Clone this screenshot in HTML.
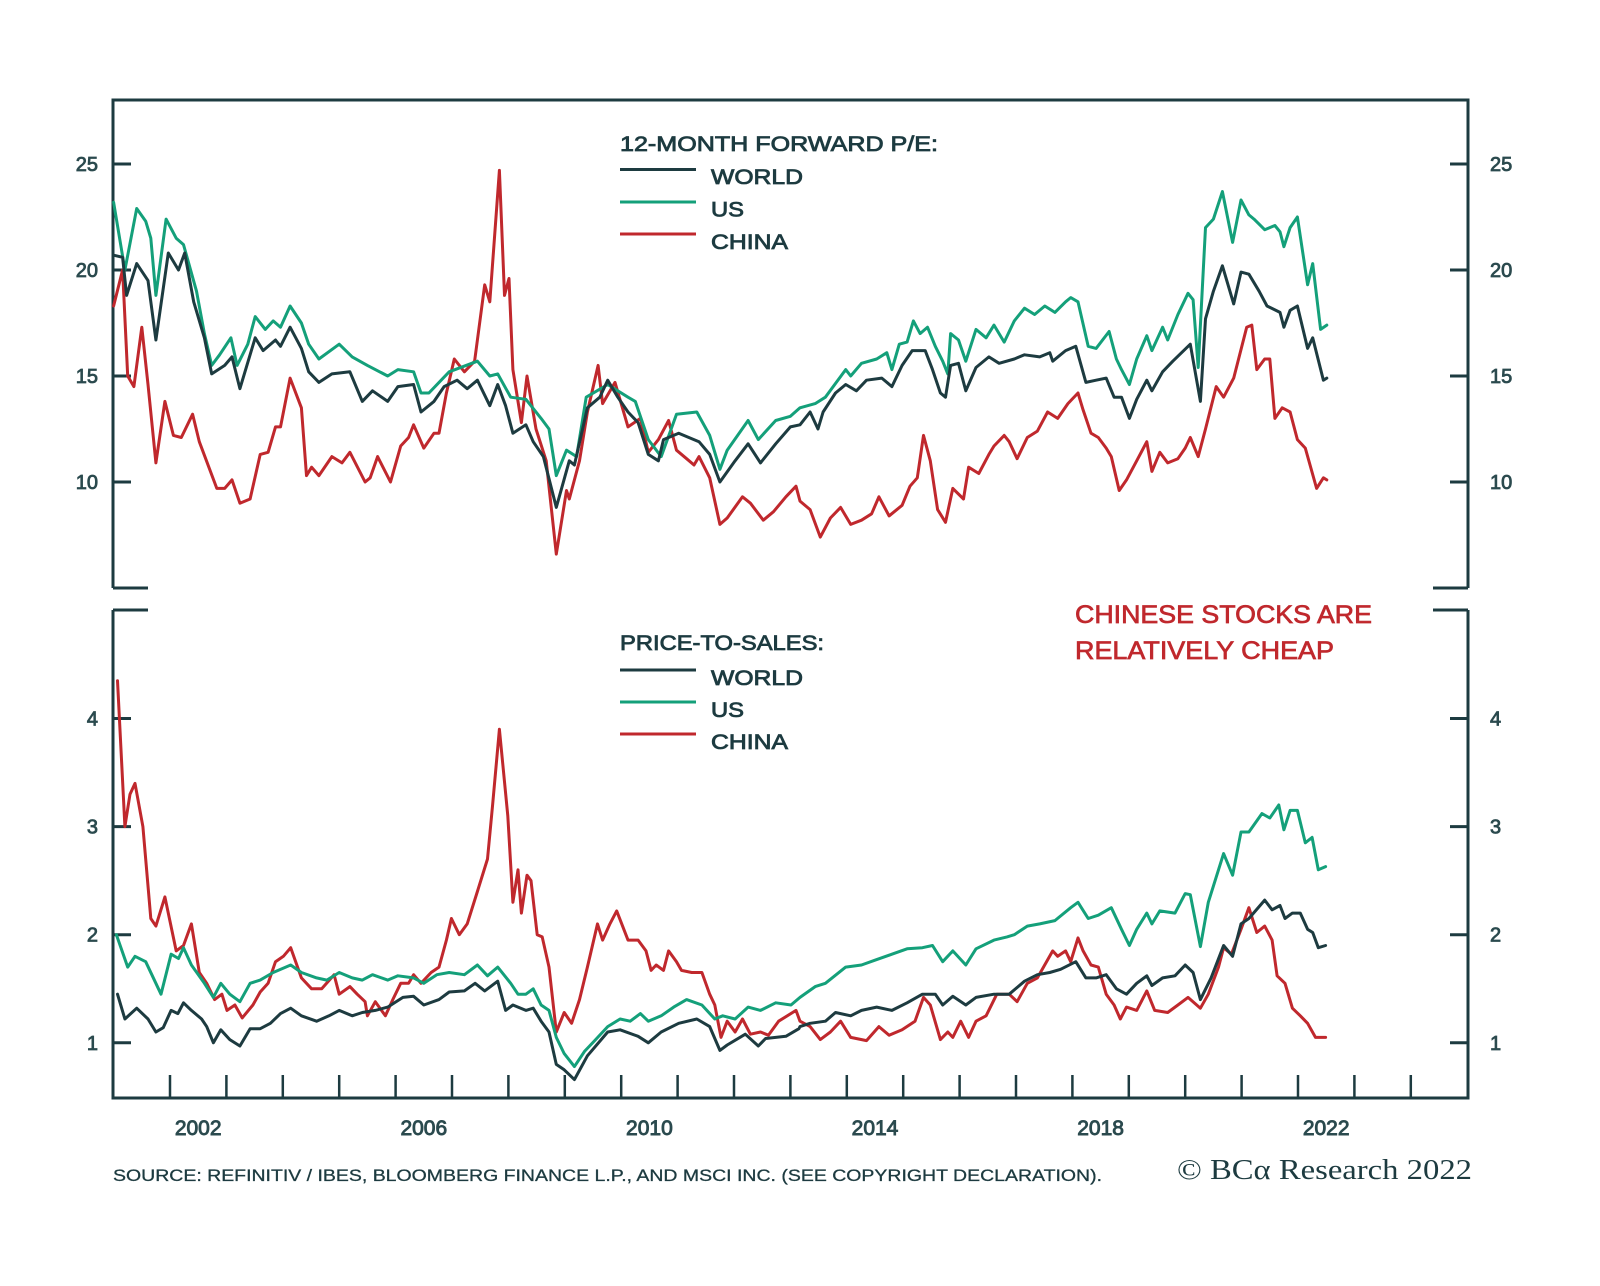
<!DOCTYPE html>
<html><head><meta charset="utf-8"><title>Forward P/E and Price-to-Sales</title>
<style>
html,body{margin:0;padding:0;background:#fff;}
svg{display:block;}
text{font-family:"Liberation Sans",sans-serif;}
</style></head>
<body>
<svg id="chart" width="1600" height="1286" viewBox="0 0 1600 1286" xmlns="http://www.w3.org/2000/svg">
<rect x="0" y="0" width="1600" height="1286" fill="#fff"/>
<g id="frame" stroke="#1d3b40" stroke-width="3" fill="none">
<path d="M113 588 L113 100 L1468 100 L1468 588"/>
<path d="M113 588 L148 588 M1433 588 L1468 588"/>
<path d="M113 610 L148 610 M1433 610 L1468 610"/>
<path d="M113 610 L113 1098 L1468 1098 L1468 610"/>
</g>
<g id="axes"></g>
<g id="series"></g>
<g fill="#1d3b40" font-size="21" stroke="#1d3b40" stroke-width="0.8" lengthAdjust="spacingAndGlyphs">
<text x="620" y="151" textLength="318" lengthAdjust="spacingAndGlyphs">12-MONTH FORWARD P/E:</text>
<line x1="620" y1="169.5" x2="696" y2="169.5" stroke="#1d3b40" stroke-width="3"/>
<text x="711" y="184" textLength="92" lengthAdjust="spacingAndGlyphs">WORLD</text>
<line x1="620" y1="202" x2="696" y2="202" stroke="#14a07a" stroke-width="3"/>
<text x="711" y="216.5" textLength="33" lengthAdjust="spacingAndGlyphs">US</text>
<line x1="620" y1="234" x2="696" y2="234" stroke="#c0282d" stroke-width="3"/>
<text x="711" y="249" textLength="77" lengthAdjust="spacingAndGlyphs">CHINA</text>
</g>
<g fill="#1d3b40" font-size="21" stroke="#1d3b40" stroke-width="0.8">
<text x="620" y="650" textLength="204" lengthAdjust="spacingAndGlyphs">PRICE-TO-SALES:</text>
<line x1="620" y1="670" x2="696" y2="670" stroke="#1d3b40" stroke-width="3"/>
<text x="711" y="685" textLength="92" lengthAdjust="spacingAndGlyphs">WORLD</text>
<line x1="620" y1="702" x2="696" y2="702" stroke="#14a07a" stroke-width="3"/>
<text x="711" y="717" textLength="33" lengthAdjust="spacingAndGlyphs">US</text>
<line x1="620" y1="734" x2="696" y2="734" stroke="#c0282d" stroke-width="3"/>
<text x="711" y="749" textLength="77" lengthAdjust="spacingAndGlyphs">CHINA</text>
</g>
<g fill="#c0282d" font-size="25" stroke="#c0282d" stroke-width="0.7">
<text x="1075" y="623" textLength="297" lengthAdjust="spacingAndGlyphs">CHINESE STOCKS ARE</text>
<text x="1075" y="659" textLength="259" lengthAdjust="spacingAndGlyphs">RELATIVELY CHEAP</text>
</g>
<text x="113" y="1181" font-size="17" fill="#1d3b40" stroke="#1d3b40" stroke-width="0.3" textLength="989" lengthAdjust="spacingAndGlyphs">SOURCE: REFINITIV / IBES, BLOOMBERG FINANCE L.P., AND MSCI INC. (SEE COPYRIGHT DECLARATION).</text>
<text x="1177" y="1179" font-size="28" fill="#1d3b40" style="font-family:'Liberation Serif',serif" textLength="295" lengthAdjust="spacingAndGlyphs">© BCα Research 2022</text>
</svg>
<script>
const peTicks = [10, 15, 20, 25];
const psTicks = [1, 2, 3, 4];
const yearLabels = [2002, 2006, 2010, 2014, 2018, 2022];

const peUsDates = [2001.00,2001.20,2001.41,2001.57,2001.66,2001.75,2001.93,2002.11,2002.24,2002.47,2002.61,2002.74,2002.88,2003.08,2003.19,2003.38,2003.51,2003.69,2003.83,2003.96,2004.13,2004.33,2004.46,2004.64,2005.00,2005.23,2005.50,2005.86,2006.04,2006.32,2006.45,2006.59,2006.95,2007.45,2007.67,2007.81,2008.04,2008.31,2008.58,2008.72,2008.85,2009.03,2009.21,2009.38,2009.76,2010.12,2010.25,2010.48,2010.71,2010.98,2011.34,2011.57,2011.75,2011.88,2012.25,2012.43,2012.74,2013.00,
2013.17,2013.44,2013.62,2013.98,2014.07,2014.26,2014.53,2014.71,2014.80,2014.93,2015.07,2015.18,2015.30,2015.43,2015.57,2015.70,2015.79,2015.84,2015.98,2016.11,2016.29,2016.47,2016.61,2016.79,2016.97,2017.15,2017.33,2017.51,2017.69,2017.88,2017.97,2018.10,2018.28,2018.42,2018.65,2018.78,2018.87,2019.01,2019.14,2019.32,2019.41,2019.60,2019.69,2019.87,2020.05,2020.14,2020.23,2020.36,2020.50,2020.66,2020.84,2020.99,2021.13,2021.22,2021.41,2021.59,2021.68,2021.75,2021.86,2021.99,2022.17,2022.26,2022.40,2022.51];
const peUsValues = [23.2,20.0,22.9,22.3,21.5,18.8,22.4,21.5,21.2,19.0,17.0,15.5,16.0,16.8,15.5,16.5,17.8,17.2,17.6,17.3,18.3,17.5,16.5,15.8,16.5,15.9,15.5,15.0,15.3,15.2,14.2,14.2,15.2,15.7,15.0,15.1,14.0,13.9,13.0,12.5,10.3,11.5,11.2,14.0,14.6,14.0,13.8,12.0,11.2,13.2,13.3,12.2,10.6,11.5,12.9,12.0,12.9,13.1,
13.5,13.7,14.0,15.3,15.0,15.6,15.8,16.1,15.3,16.5,16.6,17.6,17.0,17.3,16.4,15.7,15.1,17.0,16.7,15.7,17.2,16.8,17.4,16.6,17.6,18.2,17.9,18.3,18.0,18.5,18.7,18.5,16.4,16.3,17.1,15.8,15.3,14.6,15.8,16.9,16.2,17.3,16.7,17.9,18.9,18.6,15.4,22.0,22.4,23.7,21.3,23.3,22.6,22.4,21.9,22.1,21.8,21.1,22.0,22.5,19.3,20.3,17.2,17.4];

const peWorldDates = [2001.00,2001.16,2001.23,2001.41,2001.61,2001.75,2001.97,2002.15,2002.26,2002.42,2002.61,2002.74,2002.97,2003.10,2003.24,2003.51,2003.65,2003.87,2003.96,2004.13,2004.33,2004.46,2004.64,2004.87,2005.19,2005.41,2005.59,2005.86,2006.04,2006.32,2006.45,2006.68,2006.86,2007.09,2007.27,2007.45,2007.67,2007.81,2007.95,2008.08,2008.31,2008.44,2008.62,2008.85,2009.08,2009.17,2009.40,2009.62,2009.76,2009.94,2010.12,2010.30,2010.48,2010.66,2010.75,2011.02,2011.38,2011.57,2011.75,2012.02,2012.25,2012.47,2012.74,2013.00,
2013.17,2013.35,2013.49,2013.58,2013.80,2013.98,2014.17,2014.35,2014.62,2014.80,2014.98,2015.16,2015.39,2015.52,2015.66,2015.75,2015.84,2015.98,2016.11,2016.29,2016.52,2016.70,2016.97,2017.15,2017.42,2017.60,2017.65,2017.88,2018.06,2018.24,2018.42,2018.60,2018.74,2018.87,2019.01,2019.14,2019.32,2019.41,2019.60,2019.78,2020.09,2020.27,2020.36,2020.50,2020.66,2020.86,2020.99,2021.13,2021.31,2021.45,2021.68,2021.75,2021.86,2021.99,2022.17,2022.26,2022.45,2022.51];
const peWorldValues = [20.7,20.6,18.8,20.3,19.5,16.7,20.8,20.0,20.8,18.5,16.8,15.1,15.5,15.9,14.4,16.8,16.2,16.7,16.4,17.3,16.3,15.2,14.7,15.1,15.2,13.8,14.3,13.8,14.5,14.6,13.3,13.8,14.5,14.8,14.4,14.8,13.6,14.6,13.6,12.3,12.7,11.9,11.2,8.8,11.0,10.8,13.5,14.0,14.8,14.0,13.3,12.8,11.3,11.0,12.0,12.3,11.9,11.3,10.0,11.0,11.8,10.9,11.8,12.6,
12.7,13.3,12.5,13.3,14.2,14.6,14.3,14.8,14.9,14.5,15.5,16.2,16.2,15.3,14.2,14.0,15.5,15.6,14.3,15.4,15.9,15.6,15.8,16.0,15.9,16.1,15.7,16.2,16.4,14.7,14.8,14.9,14.0,14.0,13.0,13.9,14.8,14.3,15.2,15.7,16.5,13.8,17.7,19.0,20.2,18.4,19.9,19.8,19.0,18.3,18.0,17.3,18.1,18.3,16.3,16.8,14.8,14.9];

const peChinaDates = [2001.00,2001.16,2001.25,2001.36,2001.50,2001.61,2001.75,2001.91,2002.06,2002.20,2002.40,2002.52,2002.83,2002.97,2003.10,2003.24,2003.42,2003.60,2003.74,2003.87,2003.96,2004.13,2004.33,2004.42,2004.51,2004.64,2004.87,2005.05,2005.19,2005.46,2005.55,2005.68,2005.91,2006.09,2006.23,2006.32,2006.50,2006.68,2006.77,2006.90,2007.04,2007.22,2007.40,2007.58,2007.67,2007.84,2007.93,2008.01,2008.08,2008.23,2008.33,2008.49,2008.67,2008.85,2009.03,2009.08,2009.26,2009.40,2009.59,2009.67,2009.89,2010.12,2010.34,2010.48,2010.66,2010.84,2010.98,2011.16,2011.29,2011.38,2011.57,2011.75,2011.88,2012.15,2012.29,2012.52,2012.70,2012.92,2013.10,
2013.17,2013.35,2013.53,2013.71,2013.89,2014.07,2014.26,2014.44,2014.57,2014.75,2014.98,2015.12,2015.25,2015.36,2015.48,2015.61,2015.75,2015.88,2016.07,2016.16,2016.34,2016.52,2016.61,2016.79,2016.88,2017.02,2017.20,2017.38,2017.56,2017.74,2017.92,2018.10,2018.19,2018.33,2018.46,2018.60,2018.69,2018.83,2018.96,2019.14,2019.32,2019.41,2019.55,2019.69,2019.87,2020.00,2020.09,2020.23,2020.36,2020.55,2020.68,2020.86,2021.09,2021.18,2021.27,2021.41,2021.50,2021.59,2021.72,2021.86,2021.99,2022.13,2022.33,2022.45,2022.51];
const peChinaValues = [18.3,20.0,15.0,14.5,17.3,14.6,10.9,13.8,12.2,12.1,13.2,11.9,9.7,9.7,10.1,9.0,9.2,11.3,11.4,12.6,12.6,14.9,13.5,10.3,10.7,10.3,11.2,10.9,11.4,10.0,10.2,11.2,10.0,11.7,12.1,12.7,11.6,12.3,12.3,14.2,15.8,15.2,15.7,19.3,18.5,24.7,18.8,19.6,15.3,12.8,15.0,12.5,11.0,6.6,9.6,9.2,11.0,13.3,15.5,13.7,14.7,12.6,13.0,11.4,12.0,12.9,11.5,11.1,10.8,11.2,10.2,8.0,8.3,9.3,9.0,8.2,8.6,9.3,9.8,
9.1,8.7,7.4,8.3,8.8,8.0,8.2,8.5,9.3,8.4,8.9,9.8,10.2,12.2,11.0,8.7,8.1,9.7,9.2,10.7,10.4,11.3,11.7,12.2,11.9,11.1,12.1,12.4,13.3,13.0,13.7,14.2,13.4,12.3,12.1,11.6,11.2,9.6,10.1,11.0,11.9,10.5,11.4,10.9,11.1,11.6,12.1,11.2,12.5,14.5,14.0,14.9,17.3,17.4,15.3,15.8,15.8,13.0,13.5,13.3,12.0,11.6,9.7,10.2,10.1];

const psChinaDates = [2001.07,2001.20,2001.29,2001.38,2001.52,2001.66,2001.75,2001.91,2002.11,2002.24,2002.38,2002.52,2002.65,2002.79,2002.92,2003.01,2003.15,2003.28,2003.47,2003.60,2003.74,2003.87,2004.01,2004.14,2004.33,2004.51,2004.69,2004.91,2005.00,2005.19,2005.32,2005.46,2005.50,2005.64,2005.82,2005.95,2006.09,2006.23,2006.32,2006.45,2006.63,2006.77,2006.90,2006.99,2007.13,2007.27,2007.45,2007.63,2007.72,2007.84,2007.99,2008.08,2008.17,2008.23,2008.33,2008.40,2008.51,2008.60,2008.72,2008.85,2008.99,2009.12,2009.26,2009.40,2009.58,2009.67,2009.80,2009.92,2010.12,2010.30,2010.44,2010.53,2010.62,2010.75,2010.84,2010.98,2011.07,2011.25,2011.43,2011.57,2011.66,2011.77,2011.88,2012.02,2012.15,2012.29,2012.47,2012.61,2012.79,2013.10,
2013.17,2013.35,2013.53,2013.71,2013.89,2014.07,2014.35,2014.57,2014.75,2014.98,2015.21,2015.36,2015.48,2015.66,2015.79,2015.88,2016.02,2016.16,2016.29,2016.47,2016.66,2016.88,2017.02,2017.20,2017.38,2017.65,2017.74,2017.88,2017.97,2018.10,2018.19,2018.33,2018.46,2018.60,2018.74,2018.85,2018.96,2019.14,2019.32,2019.46,2019.69,2019.87,2020.05,2020.27,2020.41,2020.59,2020.68,2020.82,2020.99,2021.13,2021.27,2021.41,2021.54,2021.63,2021.77,2021.90,2022.04,2022.17,2022.31,2022.49];
const psChinaValues = [4.35,3.0,3.3,3.4,3.0,2.15,2.08,2.35,1.85,1.9,2.1,1.65,1.55,1.4,1.45,1.3,1.35,1.23,1.35,1.47,1.55,1.75,1.8,1.88,1.6,1.5,1.5,1.63,1.45,1.52,1.45,1.38,1.25,1.38,1.25,1.4,1.55,1.55,1.63,1.55,1.65,1.7,1.95,2.15,2.0,2.1,2.4,2.7,3.2,3.9,3.1,2.3,2.6,2.2,2.55,2.5,2.0,1.98,1.7,1.1,1.28,1.18,1.4,1.7,2.1,1.95,2.1,2.22,1.95,1.95,1.85,1.67,1.72,1.67,1.85,1.75,1.67,1.65,1.65,1.45,1.35,1.05,1.2,1.1,1.22,1.08,1.1,1.07,1.2,1.3,
1.2,1.15,1.03,1.1,1.2,1.05,1.02,1.15,1.07,1.12,1.2,1.42,1.35,1.03,1.1,1.05,1.2,1.05,1.2,1.25,1.45,1.45,1.38,1.55,1.6,1.85,1.8,1.85,1.75,1.97,1.85,1.72,1.7,1.45,1.35,1.22,1.33,1.3,1.48,1.3,1.28,1.35,1.42,1.32,1.45,1.7,1.88,1.82,2.05,2.25,2.02,2.08,1.95,1.62,1.55,1.32,1.25,1.18,1.05,1.05];

const psUsDates = [2001.05,2001.25,2001.38,2001.57,2001.84,2002.02,2002.15,2002.24,2002.38,2002.61,2002.77,2002.90,2003.06,2003.24,2003.42,2003.60,2003.83,2004.14,2004.33,2004.60,2004.78,2005.00,2005.23,2005.41,2005.59,2005.86,2006.04,2006.32,2006.50,2006.73,2006.95,2007.22,2007.45,2007.63,2007.81,2008.04,2008.17,2008.31,2008.44,2008.58,2008.72,2008.85,2008.99,2009.17,2009.35,2009.53,2009.76,2009.98,2010.16,2010.34,2010.48,2010.71,2010.93,2011.16,2011.43,2011.66,2011.80,2012.02,2012.25,2012.47,2012.74,2013.01,
2013.17,2013.44,2013.62,2013.98,2014.26,2014.53,2014.80,2015.07,2015.34,2015.52,2015.70,2015.88,2016.11,2016.29,2016.61,2016.84,2016.97,2017.20,2017.42,2017.69,2017.97,2018.10,2018.28,2018.46,2018.69,2018.87,2019.01,2019.14,2019.32,2019.41,2019.55,2019.82,2020.00,2020.09,2020.27,2020.41,2020.68,2020.84,2020.99,2021.13,2021.36,2021.50,2021.66,2021.75,2021.86,2021.99,2022.13,2022.25,2022.36,2022.49];
const psUsValues = [2.0,1.7,1.8,1.75,1.45,1.82,1.78,1.88,1.72,1.55,1.42,1.55,1.45,1.38,1.55,1.58,1.65,1.72,1.65,1.6,1.58,1.65,1.6,1.58,1.63,1.58,1.62,1.6,1.55,1.63,1.65,1.63,1.72,1.62,1.7,1.55,1.45,1.45,1.5,1.35,1.3,1.05,0.9,0.78,0.92,1.02,1.15,1.22,1.2,1.27,1.2,1.25,1.33,1.4,1.35,1.22,1.25,1.22,1.33,1.3,1.37,1.35,
1.42,1.52,1.55,1.7,1.72,1.77,1.82,1.87,1.88,1.9,1.75,1.85,1.72,1.87,1.95,1.98,2.0,2.08,2.1,2.13,2.25,2.3,2.15,2.18,2.25,2.05,1.9,2.05,2.2,2.1,2.22,2.2,2.38,2.37,1.89,2.3,2.75,2.55,2.95,2.95,3.12,3.08,3.2,2.97,3.15,3.15,2.85,2.9,2.6,2.63];

const psWorldDates = [2001.07,2001.20,2001.41,2001.61,2001.75,2001.88,2002.02,2002.14,2002.24,2002.38,2002.56,2002.65,2002.77,2002.90,2003.06,2003.24,2003.42,2003.60,2003.78,2003.96,2004.14,2004.33,2004.60,2004.82,2005.00,2005.23,2005.41,2005.64,2005.86,2006.13,2006.32,2006.50,2006.77,2006.95,2007.22,2007.41,2007.58,2007.81,2007.95,2008.08,2008.31,2008.44,2008.58,2008.72,2008.85,2008.99,2009.17,2009.40,2009.76,2009.98,2010.30,2010.48,2010.71,2011.02,2011.34,2011.57,2011.75,2011.88,2012.20,2012.43,2012.56,2012.92,2013.15,
2013.17,2013.35,2013.62,2013.80,2014.07,2014.26,2014.53,2014.80,2015.07,2015.34,2015.57,2015.70,2015.88,2016.11,2016.29,2016.61,2016.88,2017.15,2017.38,2017.60,2017.79,2018.06,2018.24,2018.42,2018.60,2018.78,2018.96,2019.14,2019.32,2019.41,2019.60,2019.82,2020.00,2020.14,2020.27,2020.46,2020.68,2020.84,2020.99,2021.13,2021.41,2021.54,2021.68,2021.77,2021.90,2022.04,2022.17,2022.26,2022.36,2022.49];
const psWorldValues = [1.45,1.22,1.32,1.22,1.1,1.14,1.3,1.27,1.37,1.3,1.22,1.15,1.0,1.12,1.03,0.97,1.13,1.13,1.18,1.27,1.32,1.25,1.2,1.25,1.3,1.25,1.28,1.3,1.33,1.42,1.43,1.35,1.4,1.47,1.48,1.55,1.48,1.57,1.3,1.35,1.3,1.32,1.2,1.1,0.8,0.75,0.66,0.88,1.1,1.12,1.06,1.0,1.1,1.18,1.22,1.15,0.93,0.98,1.08,0.97,1.04,1.06,1.13,
1.15,1.18,1.2,1.28,1.25,1.3,1.33,1.3,1.37,1.45,1.45,1.35,1.43,1.35,1.42,1.45,1.45,1.57,1.63,1.65,1.68,1.75,1.6,1.6,1.63,1.5,1.45,1.55,1.62,1.53,1.6,1.62,1.72,1.65,1.4,1.6,1.9,1.8,2.1,2.15,2.32,2.23,2.27,2.15,2.2,2.2,2.05,2.02,1.88,1.9];

const NS = 'http://www.w3.org/2000/svg';
function xScale(t){ return 170 + 56.4 * (t - 2002); }
function yPe(v){ return 482 - (v - 10) * 21.2; }
function yPs(v){ return 1042.8 - (v - 1) * 108.1; }

const axes = document.getElementById('axes');
const seriesG = document.getElementById('series');

function mk(tag, attrs, parent){
  const el = document.createElementNS(NS, tag);
  for (const k in attrs) el.setAttribute(k, attrs[k]);
  parent.appendChild(el);
  return el;
}

peTicks.forEach(v => {
  const y = yPe(v);
  const l1 = mk('line', {x1:113, y1:y, x2:131, y2:y, stroke:'#1d3b40', 'stroke-width':3}, axes);
  
  
  const l2 = mk('line', {x1:1450, y1:y, x2:1468, y2:y, stroke:'#1d3b40', 'stroke-width':3}, axes);
  
  
  const t1 = mk('text', {x:98, y:y+7, 'text-anchor':'end', 'font-size':20, fill:'#2b4a4e', stroke:'#2b4a4e', 'stroke-width':0.8}, axes);
  t1.textContent = v;
  
  
  const t2 = mk('text', {x:1490, y:y+7, 'font-size':20, fill:'#2b4a4e', stroke:'#2b4a4e', 'stroke-width':0.8}, axes);
  t2.textContent = v;
  
  
});
psTicks.forEach(v => {
  const y = yPs(v);
  const l1 = mk('line', {x1:113, y1:y, x2:131, y2:y, stroke:'#1d3b40', 'stroke-width':3}, axes);
  
  
  const l2 = mk('line', {x1:1450, y1:y, x2:1468, y2:y, stroke:'#1d3b40', 'stroke-width':3}, axes);
  
  
  const t1 = mk('text', {x:98, y:y+7, 'text-anchor':'end', 'font-size':20, fill:'#2b4a4e', stroke:'#2b4a4e', 'stroke-width':0.8}, axes);
  t1.textContent = v;
  
  
  const t2 = mk('text', {x:1490, y:y+7, 'font-size':20, fill:'#2b4a4e', stroke:'#2b4a4e', 'stroke-width':0.8}, axes);
  t2.textContent = v;
  
  
});
for (let yr = 2002; yr <= 2024; yr++) {
  const x = xScale(yr);
  const l = mk('line', {x1:x, y1:1075, x2:x, y2:1098, stroke:'#1d3b40', 'stroke-width':2.5}, axes);
  
  
}
yearLabels.forEach(yr => {
  const t = mk('text', {x:xScale(yr + 0.5), y:1135, 'text-anchor':'middle', 'font-size':21, fill:'#2b4a4e', stroke:'#2b4a4e', 'stroke-width':0.9}, axes);
  t.textContent = yr;
  
  
});

function drawLine(dates, values, yFn, color, name){
  let d = '';
  for (let i = 0; i < dates.length; i++) {
    d += (i ? 'L' : 'M') + xScale(dates[i]).toFixed(1) + ' ' + yFn(values[i]).toFixed(1);
  }
  const p = mk('path', {d:d, fill:'none', stroke:color, 'stroke-width':3, 'stroke-linejoin':'round', 'stroke-linecap':'round'}, seriesG);
  
  
}
drawLine(peChinaDates, peChinaValues, yPe, '#c0282d', 'pe-china-line');
drawLine(peUsDates, peUsValues, yPe, '#14a07a', 'pe-us-line');
drawLine(peWorldDates, peWorldValues, yPe, '#1d3b40', 'pe-world-line');
drawLine(psChinaDates, psChinaValues, yPs, '#c0282d', 'ps-china-line');
drawLine(psUsDates, psUsValues, yPs, '#14a07a', 'ps-us-line');
drawLine(psWorldDates, psWorldValues, yPs, '#1d3b40', 'ps-world-line');
</script>
</body></html>
